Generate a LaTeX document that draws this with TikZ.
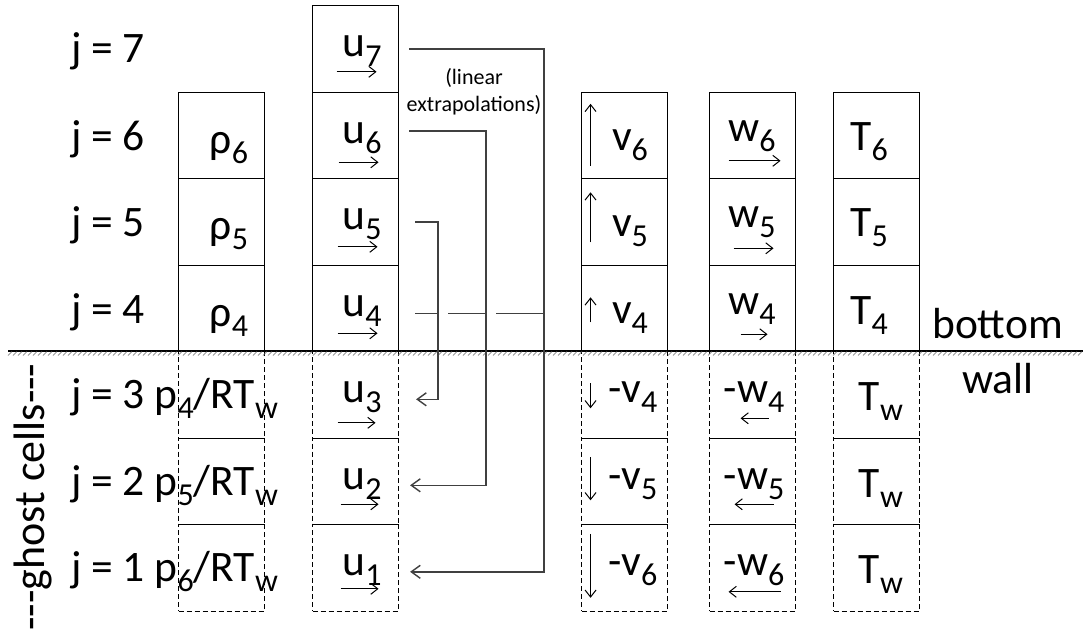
\documentclass[tikz,border=0pt]{standalone}
\usepackage{fontspec}
\setmainfont{Carlito}
\usetikzlibrary{arrows.meta}
\newcommand{\lsub}[1]{\raisebox{-10pt}{\fontsize{32}{32}\selectfont #1}}
\begin{document}
\begin{tikzpicture}[x=1pt,y=-1pt,
  every node/.style={font=\fontsize{43.5}{50}\selectfont, inner sep=0pt},
  cellbox/.style={draw, line width=1.1pt, minimum width=86pt, minimum height=86.5pt, anchor=north west},
  ghostbox/.style={cellbox, dash pattern=on 5pt off 3pt},
  vec/.style={line width=1pt, -{Straight Barb[length=7pt,width=11pt]}},
  conn/.style={line width=1.4pt, draw=black!75, -{Straight Barb[length=9pt,width=13pt]}},
  seg/.style={line width=1.4pt, draw=black!75},
  lab/.style={anchor=base west},
  val/.style={anchor=base}]
\fill[white] (0,0) rectangle (1083,635);
\useasboundingbox (0,0) rectangle (1083,635);
% cells
\foreach \r/\t in {6/91.5,5/178,4/264.5}{
  \node[cellbox] (rho\r) at (178,\t) {};
  \node[cellbox] (v\r) at (581,\t) {};
  \node[cellbox] (w\r) at (709,\t) {};
  \node[cellbox] (T\r) at (833,\t) {};
}
\foreach \r/\t in {7/5,6/91.5,5/178,4/264.5}{
  \node[cellbox] (u\r) at (312,\t) {};
}
\foreach \r/\t in {3/351,2/437.5,1/524}{
  \node[ghostbox] (rho\r) at (178,\t) {};
  \node[ghostbox] (u\r) at (312,\t) {};
  \node[ghostbox] (v\r) at (581,\t) {};
  \node[ghostbox] (w\r) at (709,\t) {};
  \node[ghostbox] (T\r) at (833,\t) {};
}
% wall
\draw[line width=1.3pt] (8,351) -- (1083,351);
\foreach \x in {8,13,...,1080} \draw[line width=0.6pt, black!60] (\x,355.5) -- (\x+4,351.5);
% row labels
\node[lab] (j7) at (71,62) {j = 7};
\node[lab] (j6) at (71,150) {j = 6};
\node[lab] (j5) at (71,236) {j = 5};
\node[lab] (j4) at (71,323) {j = 4};
\node[lab] (j3) at (71,408) {j = 3 p\lsub{4}/RT\lsub{w}};
\node[lab] (j2) at (71,495) {j = 2 p\lsub{5}/RT\lsub{w}};
\node[lab] (j1) at (71,581) {j = 1 p\lsub{6}/RT\lsub{w}};
% rho
\node[val] (trho6) at (229,153) {ρ\lsub{6}};
\node[val] (trho5) at (229,239) {ρ\lsub{5}};
\node[val] (trho4) at (229,326) {ρ\lsub{4}};
% u
\node[val] (tu7) at (362,56) {u\lsub{7}};
\node[val] (tu6) at (362,143) {u\lsub{6}};
\node[val] (tu5) at (362,229) {u\lsub{5}};
\node[val] (tu4) at (362,316) {u\lsub{4}};
\node[val] (tu3) at (362,402) {u\lsub{3}};
\node[val] (tu2) at (362,489) {u\lsub{2}};
\node[val] (tu1) at (362,575) {u\lsub{1}};
\draw[vec] ([shift={(-19,23)}]u7.center) -- ++(40,0);
\draw[vec] ([shift={(-17,27)}]u6.center) -- ++(40,0);
\draw[vec] ([shift={(-18,25)}]u5.center) -- ++(40,0);
\draw[vec] ([shift={(-18,25)}]u4.center) -- ++(40,0);
\draw[vec] ([shift={(-18,28)}]u3.center) -- ++(38,0);
\draw[vec] ([shift={(-15,23)}]u2.center) -- ++(38,0);
\draw[vec] ([shift={(-15,21)}]u1.center) -- ++(38,0);
% v
\node[val] (tv6) at (630,150) {v\lsub{6}};
\node[val] (tv5) at (630,236) {v\lsub{5}};
\node[val] (tv4) at (630,323) {v\lsub{4}};
\node[val] (tv3) at (633,402) {-v\lsub{4}};
\node[val] (tv2) at (633,489) {-v\lsub{5}};
\node[val] (tv1) at (633,575) {-v\lsub{6}};
\draw[vec] ([shift={(-34,30.5)}]v6.center) -- ++(0,-62);
\draw[vec] ([shift={(-34,20.5)}]v5.center) -- ++(0,-50);
\draw[vec] ([shift={(-34,14)}]v4.center) -- ++(0,-25);
\draw[vec] ([shift={(-34,-11.5)}]v3.center) -- ++(0,25);
\draw[vec] ([shift={(-34,-24)}]v2.center) -- ++(0,43);
\draw[vec] ([shift={(-34,-34)}]v1.center) -- ++(0,64);
% w
\node[val] (tw6) at (752,141) {w\lsub{6}};
\node[val] (tw5) at (752,227) {w\lsub{5}};
\node[val] (tw4) at (752,314) {w\lsub{4}};
\node[val] (tw3) at (754,402) {-w\lsub{4}};
\node[val] (tw2) at (754,489) {-w\lsub{5}};
\node[val] (tw1) at (754,575) {-w\lsub{6}};
\draw[vec] ([shift={(-24,25.5)}]w6.center) -- ++(52,0);
\draw[vec] ([shift={(-19,26.5)}]w5.center) -- ++(40,0);
\draw[vec] ([shift={(-12,26)}]w4.center) -- ++(27,0);
\draw[vec] ([shift={(16,23.5)}]w3.center) -- ++(-28,0);
\draw[vec] ([shift={(21,23)}]w2.center) -- ++(-39,0);
\draw[vec] ([shift={(28,24)}]w1.center) -- ++(-52,0);
% T
\node[val] (tT6) at (869,150) {T\lsub{6}};
\node[val] (tT5) at (869,236) {T\lsub{5}};
\node[val] (tT4) at (869,324) {T\lsub{4}};
\node[val] (tT3) at (881,410) {T\lsub{w}};
\node[val] (tT2) at (881,497) {T\lsub{w}};
\node[val] (tT1) at (881,583) {T\lsub{w}};
% extrapolation connectors
\draw[conn] ([xshift=10pt]u7.east) -- ++(135,0) |- ([shift={(11,4)}]u1.east);
\draw[conn] ([shift={(10,-4.5)}]u6.east) -- ++(77,0) |- ([shift={(11,4)}]u2.east);
\draw[conn] ([shift={(16,0)}]u5.east) -- ++(23,0) |- ([shift={(17,4.5)}]u3.east);
\draw[seg] ([shift={(16,5)}]u4.east) -- ++(23,0);
\draw[seg] ([shift={(49,5)}]u4.east) -- ++(38,0);
\draw[seg] ([shift={(97,5)}]u4.east) -- ++(48,0);
\node[font=\fontsize{22}{27}\selectfont, align=center] (lin) at (474,92) {(linear\\extrapolations)};
% wall labels
\node[lab] (bot) at (932,338) {bottom};
\node[lab] (wall) at (962,393) {wall};
\node[rotate=90, font=\fontsize{44}{50}\selectfont] (gc) at (33,497) {-{}-{}-ghost cells-{}-{}-};
\end{tikzpicture}
\end{document}
